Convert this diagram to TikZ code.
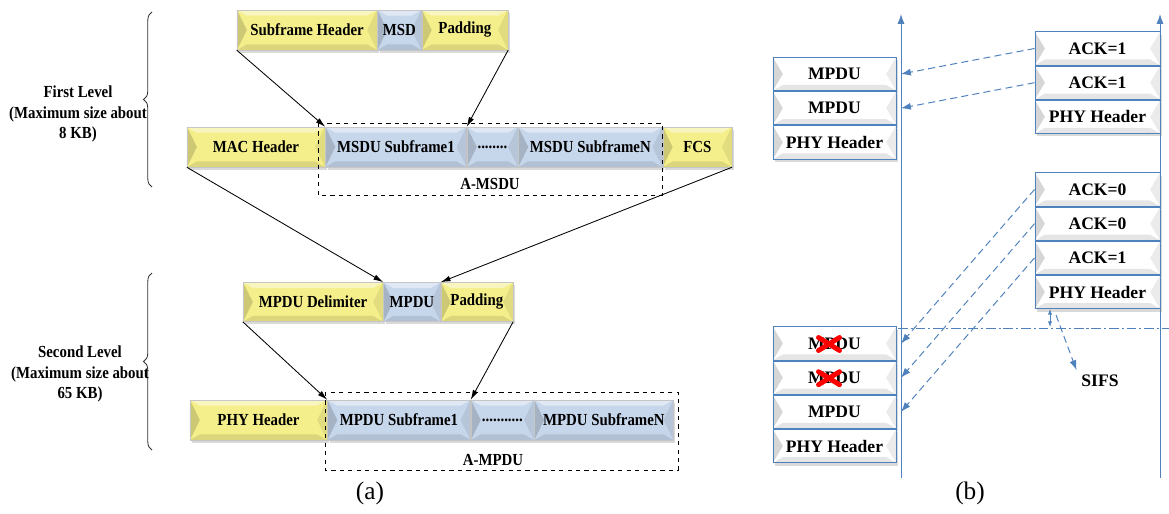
\documentclass[tikz,border=0pt]{standalone}
\usepackage{fontspec}
\setmainfont{Liberation Serif}
\newfontfamily\condfont[FakeStretch=0.88]{Liberation Serif}
\usetikzlibrary{positioning,arrows.meta,decorations.pathreplacing,shadows,calc}
\definecolor{yelbox}{HTML}{F4EF8A}
\definecolor{blubox}{HTML}{C6D6EB}
\definecolor{lineblue}{HTML}{4F81BD}
\tikzset{
  bevel/.style={path picture={
    \fill[black,opacity=.16] (path picture bounding box.north west) -- ([xshift=7pt]path picture bounding box.west) -- (path picture bounding box.south west) -- cycle;
    \fill[black,opacity=.08] (path picture bounding box.north east) -- ([xshift=-7pt]path picture bounding box.east) -- (path picture bounding box.south east) -- cycle;
    \fill[black,opacity=.10] (path picture bounding box.south west) -- ([xshift=7pt,yshift=4pt]path picture bounding box.south west) -- ([xshift=-7pt,yshift=4pt]path picture bounding box.south east) -- (path picture bounding box.south east) -- cycle;
    \fill[white,opacity=.45] (path picture bounding box.north west) -- (path picture bounding box.north east) -- ([xshift=-7pt,yshift=-4pt]path picture bounding box.north east) -- ([xshift=7pt,yshift=-4pt]path picture bounding box.north west) -- cycle;
  }},
  frame/.style={rectangle, inner sep=0pt, minimum height=1cm, draw=gray!45, line width=.3pt,
    font=\condfont\fontsize{12}{14}\selectfont\bfseries, bevel,
    drop shadow={shadow xshift=1.5pt, shadow yshift=-2pt, opacity=.3}},
  yel/.style={frame, fill=yelbox},
  blu/.style={frame, fill=blubox},
  pkt/.style={rectangle, inner sep=0pt, minimum width=3.075cm, minimum height=.83cm, fill=white,
    draw=lineblue, line width=.7pt, font=\fontsize{12.5}{14}\selectfont\bfseries, bevel,
    drop shadow={shadow xshift=1.5pt, shadow yshift=-2pt, opacity=.3}},
  ackbox/.style={pkt, minimum width=3.125cm},
  arr/.style={-{Latex[length=7pt,width=4pt]}, line width=.6pt},
  level/.style={align=center, font=\condfont\fontsize{12}{14.5}\selectfont\bfseries},
  lvlbrace/.style={decorate, decoration={brace, amplitude=6pt}, draw=gray!40!black, line width=.6pt},
  axisline/.style={lineblue, line width=.7pt, -{Latex[length=7pt,width=5pt]}},
  ackline/.style={lineblue, line width=.7pt, dash pattern=on 5pt off 3pt, -{Latex[length=7pt,width=5pt]}},
  xmark/.style={red, line width=3.5pt, line cap=round},
  caption/.style={font=\fontsize{18}{20}\selectfont}
}
\begin{document}
\begin{tikzpicture}[x=0.025cm, y=-0.025cm]
\useasboundingbox (0,0) rectangle (1169,513);

\node [yel, minimum width=3.5cm] (sfh) at (307,30) {Subframe Header};
\node [blu, minimum width=1.1cm, right=0pt of sfh] (msd) {MSD};
\node [yel, minimum width=2.15cm, right=0pt of msd] (pad1) {Padding};

\node [yel, minimum width=3.45cm] (mac) at (256,147) {MAC Header};
\node [blu, minimum width=3.525cm, right=0pt of mac] (sub1) {MSDU Subframe1};
\node [blu, minimum width=1.275cm, right=0pt of sub1] (dots1) {........};
\node [blu, minimum width=3.6cm, right=0pt of dots1] (subN) {MSDU SubframeN};
\node [yel, minimum width=1.725cm, right=0pt of subN] (fcs) {FCS};
\draw [dashed, line width=.6pt] (318,123) rectangle (662,195);
\node [level] (amsdu) at (490,184) {A-MSDU};

\node [yel, minimum width=3.5cm, minimum height=.98cm] (delim) at (313,302) {MPDU Delimiter};
\node [blu, minimum width=1.425cm, minimum height=.98cm, right=0pt of delim] (mpdu) {MPDU};
\node [yel, minimum width=1.8cm, minimum height=.98cm, right=0pt of mpdu] (pad2) {Padding};

\node [yel, minimum width=3.425cm] (phy) at (258.5,420) {PHY Header};
\node [blu, minimum width=3.575cm, right=0pt of phy] (msub1) {MPDU Subframe1};
\node [blu, minimum width=1.575cm, right=0pt of msub1] (dots2) {...........};
\node [blu, minimum width=3.475cm, right=0pt of dots2] (msubN) {MPDU SubframeN};
\draw [dashed, line width=.6pt] (325,392) rectangle (678,470);
\node [level] (ampdu) at (493,460) {A-MPDU};

\draw [arr] (sfh.south west) -- (sub1.north west);
\draw [arr] (pad1.south east) -- (sub1.north east);
\draw [arr] (mac.south west) -- (mpdu.north west);
\draw [arr] (fcs.south east) -- (mpdu.north east);
\draw [arr] (delim.south west) -- (msub1.north west);
\draw [arr] (pad2.south east) -- (msub1.north east);

\draw [lvlbrace] (152,187) -- (152,12);
\node [level] (lvl1) at (78,114) {First Level\\(Maximum size about\\8 KB)};
\draw [lvlbrace] (152,450) -- (152,273);
\node [level] (lvl2) at (80,374) {Second Level\\(Maximum size about\\65 KB)};

\node [caption] (capa) at (370,493) {(a)};

\coordinate (tx0) at (901,478);
\coordinate (tx1) at (901,14);
\coordinate (rx0) at (1160,478);
\coordinate (rx1) at (1160,14);
\draw [axisline] (tx0) -- (tx1);
\draw [axisline] (rx0) -- (rx1);

\node [pkt] (l1a) at (834.5,74) {MPDU};
\node [pkt, below=0pt of l1a] (l1b) {MPDU};
\node [pkt, below=0pt of l1b] (l1c) {PHY Header};

\node [ackbox] (r1a) at (1097.5,48.5) {ACK=1};
\node [ackbox, below=0pt of r1a] (r1b) {ACK=1};
\node [ackbox, below=0pt of r1b] (r1c) {PHY Header};

\node [ackbox] (r2a) at (1097.5,189.5) {ACK=0};
\node [ackbox, below=0pt of r2a] (r2b) {ACK=0};
\node [ackbox, below=0pt of r2b] (r2c) {ACK=1};
\node [ackbox, below=0pt of r2c] (r2d) {PHY Header};

\node [pkt] (l2a) at (834.5,343.5) {MPDU};
\node [pkt, below=0pt of l2a] (l2b) {MPDU};
\node [pkt, below=0pt of l2b] (l2c) {MPDU};
\node [pkt, below=0pt of l2c] (l2d) {PHY Header};

\draw [xmark] ($(l2a.center)+(-16,-6)$) -- ($(l2a.center)+(5,7)$);
\draw [xmark] ($(l2a.center)+(-16,7)$) -- ($(l2a.center)+(5,-6)$);
\draw [xmark] ($(l2b.center)+(-16,-6)$) -- ($(l2b.center)+(5,7)$);
\draw [xmark] ($(l2b.center)+(-16,7)$) -- ($(l2b.center)+(5,-6)$);

\draw [ackline] (r1a.west) -- (l1a.east -| tx0);
\draw [ackline] (r1b.west) -- (l1b.east -| tx0);
\draw [ackline] (r2a.west) -- (l2a.east -| tx0);
\draw [ackline] (r2b.west) -- (l2b.east -| tx0);
\draw [ackline] (r2c.west) -- (l2c.east -| tx0);

\coordinate (sl) at (898,328);
\coordinate (sr) at (1169,328);
\draw [lineblue, line width=.7pt, dash pattern=on 7pt off 2pt on 1.5pt off 2pt] (sl) -- (sr);
\coordinate (s1) at (1050,309);
\coordinate (s2) at (1050,327);
\draw [lineblue, line width=.6pt, {Latex[length=4pt,width=3pt]}-{Latex[length=4pt,width=3pt]}] (s1) -- (s2);
\coordinate (s3) at (1056,315);
\node [font=\fontsize{12.5}{14}\selectfont\bfseries] (sifs) at (1100,381) {SIFS};
\draw [ackline] (s3) -- (sifs.north west);

\node [caption] (capb) at (970,493) {(b)};
\end{tikzpicture}
\end{document}
